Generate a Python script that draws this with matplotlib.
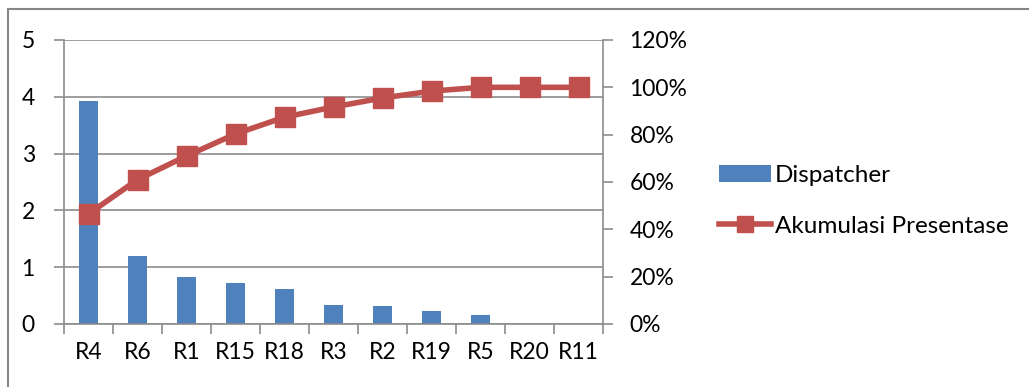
"""Diagram pareto: jumlah dispatcher per penyebab dan akumulasi persentase."""

import matplotlib.pyplot as plt
from matplotlib.patches import Rectangle
from matplotlib.ticker import PercentFormatter

kategori = ["R4", "R6", "R1", "R15", "R18", "R3", "R2", "R19", "R5", "R20", "R11"]
dispatcher = [3.92, 1.19, 0.82, 0.73, 0.62, 0.34, 0.31, 0.23, 0.15, 0, 0]
akumulasi = [46.5, 61, 71, 80.3, 87.4, 91.7, 95.5, 98.4, 100, 100, 100]

plt.rcParams["font.family"] = ["Lato", "DejaVu Sans"]
plt.rcParams["font.size"] = 16.5

W, H = 1029, 387
fig = plt.figure(figsize=(W / 100, H / 100), dpi=100)

# bingkai luar grafik
fig.patches.append(Rectangle((8 / W, -0.1), 1.2, (H - 9.5) / H + 0.1,
                             transform=fig.transFigure, fill=False,
                             edgecolor="#868686", linewidth=1.5))

ax = fig.add_axes([64 / W, (H - 324) / H, 539 / W, 284 / H])
x = range(len(kategori))
ax.bar(x, dispatcher, width=0.4, color="#4F81BD", label="Dispatcher", zorder=2)
ax.set_xlim(-0.5, len(kategori) - 0.5)
ax.set_ylim(0, 5)
ax.set_yticks(range(6))
ax.grid(axis="y", color="#8C8C8C", linewidth=1.2, zorder=0)
ax.set_xticks(list(x))
ax.set_xticklabels(kategori)
ax.set_xticks([i - 0.5 for i in range(len(kategori) + 1)], minor=True)
ax.tick_params(axis="x", which="major", length=0, pad=13)
ax.tick_params(axis="x", which="minor", length=7, color="#8C8C8C", width=1.2)
ax.tick_params(axis="y", length=7, color="#8C8C8C", width=1.2, pad=14)
for s in ["top", "right"]:
    ax.spines[s].set_visible(False)
for s in ["left", "bottom"]:
    ax.spines[s].set_color("#8C8C8C")
    ax.spines[s].set_linewidth(1.2)

ax2 = ax.twinx()
ax2.plot(x, akumulasi, color="#C0504D", linewidth=4, marker="s",
         markersize=15, label="Akumulasi Presentase", zorder=3)
ax2.set_ylim(0, 120)
ax2.set_yticks(range(0, 121, 20))
ax2.yaxis.set_major_formatter(PercentFormatter(decimals=0))
ax2.tick_params(axis="y", length=7, color="#8C8C8C", width=1.2, pad=12)
for s in ["top", "left", "bottom"]:
    ax2.spines[s].set_visible(False)
ax2.spines["right"].set_color("#8C8C8C")
ax2.spines["right"].set_linewidth(1.2)

h1, l1 = ax.get_legend_handles_labels()
h2, l2 = ax2.get_legend_handles_labels()
fig.legend(h1 + h2, l1 + l2, loc="center left",
           bbox_to_anchor=(697 / W, 1 - 201 / H), frameon=False,
           handlelength=2.15, handletextpad=0.15, labelspacing=1.2,
           markerscale=0.75, fontsize=17.5)

fig.savefig("out.png", dpi=100)
